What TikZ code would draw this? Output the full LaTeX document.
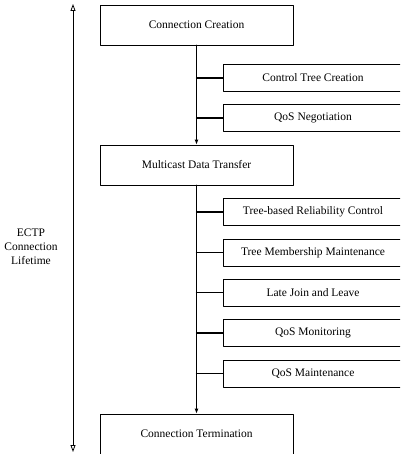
\documentclass[tikz,border=0pt]{standalone}
\usepackage{fontspec}
\setmainfont{Liberation Serif}
\usetikzlibrary{arrows.meta}

\begin{document}
\begin{tikzpicture}[
  x=1pt,
  y=-1pt,
  line cap=round,
  line join=round,
  font=\fontsize{11.5}{14}\selectfont,
  phase/.style={
    draw,
    line width=0.7pt,
    minimum width=193pt,
    minimum height=40pt,
    inner sep=0pt
  },
  task/.style={
    draw,
    line width=0.7pt,
    minimum width=180pt,
    minimum height=27pt,
    inner sep=0pt
  },
  flow/.style={
    line width=1.5pt,
    -{Latex[length=5pt,width=4pt]}
  },
  branch/.style={line width=1.3pt},
  lifetime/.style={
    line width=0.8pt,
    {Triangle[open,length=7pt,width=5pt]}-{Triangle[open,length=7pt,width=5pt]}
  }
]
  \clip (0,0) rectangle (400,454);

  % Phases of the connection
  \node[phase] (create)    at (196.5,25)  {Connection Creation};
  \node[phase] (multicast) at (196.5,165) {Multicast Data Transfer};
  \node[phase] (term)      at (196.5,434) {Connection Termination};

  % Tasks of the creation phase
  \node[task] (ctree)  at (313,78)  {Control Tree Creation};
  \node[task] (qosneg) at (313,118) {QoS Negotiation};

  % Tasks of the transfer phase
  \node[task] (treerel)  at (313,212)   {Tree-based Reliability Control};
  \node[task] (member)   at (313,252.5) {Tree Membership Maintenance};
  \node[task] (latejoin) at (313,292.5) {Late Join and Leave};
  \node[task] (qosmon)   at (313,333)   {QoS Monitoring};
  \node[task] (qosmaint) at (313,373.5) {QoS Maintenance};

  \draw[flow]
    (create) -- (multicast);

  \draw[flow]
    (multicast) -- (term);

  \foreach \t in {ctree,qosneg} {
    \draw[branch]
      (\t.west) -- (\t.west -| create.south);
  }

  \foreach \t in {treerel,member,latejoin,qosmon,qosmaint} {
    \draw[branch]
      (\t.west) -- (\t.west -| multicast.south);
  }

  % Lifetime of the connection
  \coordinate (LT) at (73,4);
  \coordinate (LB) at (73,452);

  \draw[lifetime]
    (LT) -- (LB);

  \node[align=center] (ectp) at (31,247)
    {ECTP\\Connection\\Lifetime};
\end{tikzpicture}
\end{document}
